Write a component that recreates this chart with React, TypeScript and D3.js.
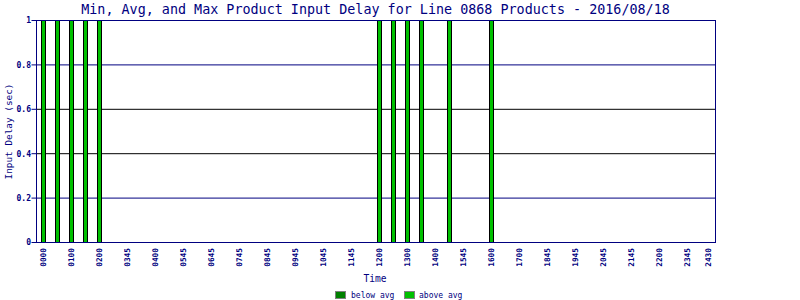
import React from "react";
import * as d3 from "d3";

const slotCount = 48;
const tickLabels = ["0000","0100","0200","0345","0400","0545","0645","0745","0845","0945","1045","1145","1200","1300","1400","1545","1600","1700","1845","1945","2045","2145","2200","2345","2430"];
const tickSlots = [0,2,4,6,8,10,12,14,16,18,20,22,24,26,28,30,32,34,36,38,40,42,44,46,47.5];
const activeSlots = [0,1,2,3,4,24,25,26,27,29,32];
const belowAvg: number[] = Array.from({ length: slotCount }, () => 0);
const aboveAvg: number[] = Array.from({ length: slotCount }, (_, i) => (activeSlots.includes(i) ? 1 : 0));
const yTicks = [0, 0.2, 0.4, 0.6, 0.8, 1];
const yTickText = ["0", "0.2", "0.4", "0.6", "0.8", "1"];

const NAVY = "#000080";
const MONO = "'DejaVu Sans Mono', 'Liberation Mono', monospace";

export default function App() {
  const W = 800, H = 300;
  const x = d3.scaleLinear().domain([-0.5, 48]).range([36.5, 715.5]);
  const y = d3.scaleLinear().domain([0, 1]).range([242.5, 20.5]);
  const gridColor = (v: number) => (v === 0.4 || v === 0.6 ? "#000000" : NAVY);
  return (
    <svg width={W} height={H} style={{ position: "absolute", left: 0, top: 0, background: "#fff" }}>
      <rect x={0} y={0} width={W} height={H} fill="#fff" />
      <text x={375.5} y={13.5} textAnchor="middle" fontFamily={MONO} fontSize={13.4} fill={NAVY}>
        Min, Avg, and Max Product Input Delay for Line 0868 Products - 2016/08/18
      </text>
      {yTicks.filter((v) => v > 0 && v < 1).map((v) => (
        <line key={"g" + v} x1={x(-0.5)} x2={x(48)} y1={y(v)} y2={y(v)} stroke={gridColor(v)} strokeWidth={1} />
      ))}
      {aboveAvg.map((v, i) => {
        if (v <= 0) return null;
        const c = x(i);
        const left = Math.floor(c - 2) + 0.5;
        const top = y(v);
        const bTop = y(belowAvg[i]);
        return (
          <g key={"b" + i}>
            {belowAvg[i] > 0 && (
              <rect x={left} y={bTop} width={4} height={y(0) - bTop} fill="#008000" stroke="#000" strokeWidth={1} />
            )}
            <rect x={left} y={top} width={4} height={bTop - top} fill="#00C000" stroke="#000" strokeWidth={1} />
          </g>
        );
      })}
      <rect x={x(-0.5)} y={y(1)} width={x(48) - x(-0.5)} height={y(0) - y(1)} fill="none" stroke={NAVY} strokeWidth={1} />
      {yTicks.map((v, i) => (
        <g key={"yt" + v}>
          <line x1={x(-0.5) - 5} x2={x(-0.5)} y1={y(v)} y2={y(v)} stroke={NAVY} />
          <text x={31} y={y(v)} dy="0.35em" textAnchor="end" fontFamily={MONO} fontSize={8} fontWeight="bold" fill={NAVY}>
            {yTickText[i]}
          </text>
        </g>
      ))}
      {tickLabels.map((t, i) => (
        <text key={"xt" + t} transform={`translate(${x(tickSlots[i]) + 2.5},248) rotate(-90)`} textAnchor="end"
          fontFamily={MONO} fontSize={7.8} fontWeight="bold" fill={NAVY}>
          {t}
        </text>
      ))}
      <text transform={`translate(11.5,${(y(0) + y(1)) / 2}) rotate(-90)`} textAnchor="middle" fontFamily={MONO} fontSize={9.4} fill={NAVY}>
        Input Delay (sec)
      </text>
      <text x={375} y={282} textAnchor="middle" fontFamily={MONO} fontSize={9.6} fill={NAVY}>Time</text>
      <rect x={335.5} y={291.5} width={10} height={7} fill="#008000" stroke="#808080" />
      <text x={351} y={298} fontFamily={MONO} fontSize={8} fill={NAVY}>below avg</text>
      <rect x={404.5} y={291.5} width={10} height={7} fill="#00C000" stroke="#808080" />
      <text x={419} y={298} fontFamily={MONO} fontSize={8} fill={NAVY}>above avg</text>
    </svg>
  );
}
